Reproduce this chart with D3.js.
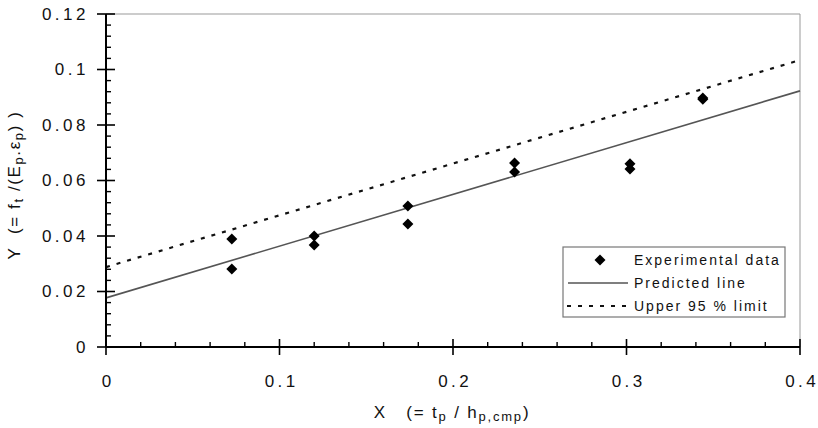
<!DOCTYPE html>
<html><head><meta charset="utf-8">
<script src="https://cdn.jsdelivr.net/npm/d3@7"></script>
<style>
body{margin:0;background:#fff;}
text{font-family:"Liberation Sans",Arial,sans-serif;fill:#111;}
</style></head>
<body><svg id="c" width="818" height="428"></svg>
<script>
const expX = [0.0725,0.0725,0.120,0.120,0.174,0.174,0.2355,0.2355,0.302,0.302,0.344,0.344];
const expY = [0.0389,0.0281,0.0400,0.0368,0.0508,0.0443,0.0663,0.0631,0.0660,0.0641,0.0897,0.0893];
const lineX = [0,0.4];
const predictedY = [0.0177,0.0923];
const upperY = [0.0288,0.1034];
const xTicks = [0,0.1,0.2,0.3,0.4];
const yTicks = [0,0.02,0.04,0.06,0.08,0.1,0.12];
const legendLabels = ["Experimental data","Predicted line","Upper 95 % limit"];

const W=818,H=428, m={l:106,r:18,t:14,b:81};
const svg=d3.select("#c");
const x=d3.scaleLinear().domain([0,0.4]).range([m.l,W-m.r]);
const y=d3.scaleLinear().domain([0,0.12]).range([H-m.b,m.t]);

// frame (top/right)
svg.append("line").attr("x1",x(0)).attr("x2",x(0.4)).attr("y1",y(0.12)).attr("y2",y(0.12)).attr("stroke","#999").attr("stroke-width",1);
svg.append("line").attr("x1",x(0.4)).attr("x2",x(0.4)).attr("y1",y(0.12)).attr("y2",y(0)).attr("stroke","#999").attr("stroke-width",1);

// lines
const lineGen=(ys)=>d3.line().x((d,i)=>x(lineX[i])).y(d=>y(d))(ys);
svg.append("path").attr("d",lineGen(predictedY)).attr("fill","none").attr("stroke","#555").attr("stroke-width",1.6);
svg.append("path").attr("d",lineGen(upperY)).attr("fill","none").attr("stroke","#111").attr("stroke-width",2.2).attr("stroke-dasharray","4,7");

// x axis
const xMinor=d3.range(0,0.4001,0.02).filter(v=>Math.abs(v*10-Math.round(v*10))>1e-6);
svg.append("line").attr("x1",x(0)).attr("x2",x(0.4)).attr("y1",y(0)).attr("y2",y(0)).attr("stroke","#000").attr("stroke-width",2);
const xa=svg.append("g").attr("transform",`translate(0,${y(0)})`)
  .call(d3.axisBottom(x).tickValues(xTicks).tickSize(0).tickPadding(0).tickFormat(d=>String(+d.toFixed(2))));
xa.select(".domain").remove();
xa.selectAll("text").attr("dy",null).attr("y",40).attr("dx",1.7).attr("font-size",17).attr("letter-spacing","3.5px").attr("fill","#111");
xTicks.forEach(v=>svg.append("line").attr("x1",x(v)).attr("x2",x(v)).attr("y1",y(0)-8).attr("y2",y(0)+8).attr("stroke","#000").attr("stroke-width",1.6));
xMinor.forEach(v=>svg.append("line").attr("x1",x(v)).attr("x2",x(v)).attr("y1",y(0)-5).attr("y2",y(0)).attr("stroke","#000").attr("stroke-width",1.4));

// y axis
const yMinor=d3.range(0,0.12001,0.004).filter(v=>Math.abs(v*50-Math.round(v*50))>1e-6);
svg.append("line").attr("x1",x(0)).attr("x2",x(0)).attr("y1",y(0)).attr("y2",y(0.12)).attr("stroke","#000").attr("stroke-width",2);
const ya=svg.append("g").attr("transform",`translate(${x(0)},0)`)
  .call(d3.axisLeft(y).tickValues(yTicks).tickSize(0).tickPadding(17).tickFormat(d=>String(+d.toFixed(2))));
ya.select(".domain").remove();
ya.selectAll("text").attr("font-size",17).attr("letter-spacing","3.5px").attr("fill","#111");
yTicks.forEach(v=>svg.append("line").attr("x1",x(0)-9).attr("x2",x(0)+9).attr("y1",y(v)).attr("y2",y(v)).attr("stroke","#000").attr("stroke-width",1.6));
yMinor.forEach(v=>svg.append("line").attr("x1",x(0)).attr("x2",x(0)+5).attr("y1",y(v)).attr("y2",y(v)).attr("stroke","#000").attr("stroke-width",1.4));

// points
const diamond=(cx,cy,r)=>`M${cx},${cy-r}L${cx+r},${cy}L${cx},${cy+r}L${cx-r},${cy}Z`;
svg.append("g").selectAll("path").data(expX).join("path")
  .attr("d",(d,i)=>diamond(x(d),y(expY[i]),5.5)).attr("fill","#000");

// axis titles
const xt=svg.append("text").attr("x",452).attr("y",418).attr("text-anchor","middle").attr("font-size",17).attr("letter-spacing","1.8px");
xt.append("tspan").text("X\u00a0\u00a0 (= t");
xt.append("tspan").attr("font-size",13).attr("dy",3).text("p");
xt.append("tspan").attr("dy",-3).text(" / h");
xt.append("tspan").attr("font-size",13).attr("dy",3).text("p,cmp");
xt.append("tspan").attr("dy",-3).text(")");

const yt=svg.append("text").attr("transform","translate(20,185) rotate(-90)").attr("text-anchor","middle").attr("font-size",17).attr("letter-spacing","1.6px");
yt.append("tspan").text("Y\u00a0 (= f");
yt.append("tspan").attr("font-size",13).attr("dy",3).text("t");
yt.append("tspan").attr("dy",-3).text(" /(E");
yt.append("tspan").attr("font-size",13).attr("dy",3).text("p");
yt.append("tspan").attr("dy",-3).text(".ε");
yt.append("tspan").attr("font-size",13).attr("dy",3).text("p");
yt.append("tspan").attr("dy",-3).text(") )");

// legend
const lg=svg.append("g");
lg.append("rect").attr("x",563).attr("y",247).attr("width",222).attr("height",70).attr("fill","#fff").attr("stroke","#777").attr("stroke-width",1.2);
const rowsY=[260,283,306];
lg.append("path").attr("d",diamond(600,rowsY[0],5.5)).attr("fill","#000");
lg.append("line").attr("x1",568).attr("x2",628).attr("y1",rowsY[1]).attr("y2",rowsY[1]).attr("stroke","#555").attr("stroke-width",1.6);
lg.append("line").attr("x1",567).attr("x2",632).attr("y1",rowsY[2]).attr("y2",rowsY[2]).attr("stroke","#111").attr("stroke-width",2.2).attr("stroke-dasharray","4,7");
legendLabels.forEach((t,i)=>lg.append("text").attr("x",634).attr("y",rowsY[i]+5).attr("font-size",14).attr("letter-spacing","2px").text(t));
</script></body></html>
